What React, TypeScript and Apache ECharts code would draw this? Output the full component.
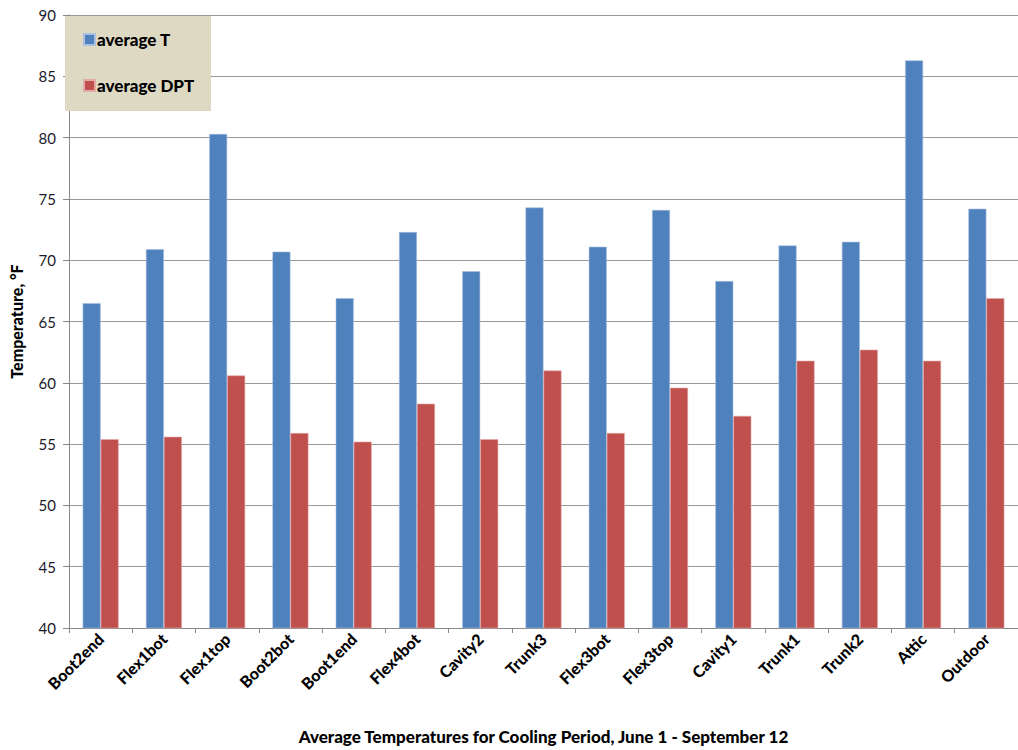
import React, { useEffect, useRef } from "react";
import * as echarts from "echarts";

const categories = [
  "Boot2end", "Flex1bot", "Flex1top", "Boot2bot", "Boot1end", "Flex4bot", "Cavity2",
  "Trunk3", "Flex3bot", "Flex3top", "Cavity1", "Trunk1", "Trunk2", "Attic", "Outdoor",
];
const averageT = [66.5, 70.9, 80.3, 70.7, 66.9, 72.3, 69.1, 74.3, 71.1, 74.1, 68.3, 71.2, 71.5, 86.3, 74.2];
const averageDPT = [55.4, 55.6, 60.6, 55.9, 55.2, 58.3, 55.4, 61.0, 55.9, 59.6, 57.3, 61.8, 62.7, 61.8, 66.9];

const FONT = "Lato, 'Open Sans', sans-serif";

export default function App() {
  const ref = useRef<HTMLDivElement>(null);

  useEffect(() => {
    if (!ref.current) return;
    const chart = echarts.init(ref.current, undefined, { renderer: "svg" });
    chart.setOption({
      animation: false,
      backgroundColor: "#ffffff",
      textStyle: { fontFamily: FONT },
      graphic: [
        {
          type: "rect",
          z: 5,
          shape: { x: 65, y: 16, width: 146, height: 95 },
          style: { fill: "#DDD9C3" },
        },
      ],
      legend: {
        z: 10,
        left: 83,
        top: 31,
        orient: "vertical",
        itemWidth: 11,
        itemHeight: 11,
        itemGap: 29,
        icon: "rect",
        padding: 0,
        textStyle: { fontFamily: FONT, fontSize: 17, fontWeight: 900, color: "#000", padding: [0, 0, 0, -3] },
        data: ["average T", "average DPT"],
      },
      grid: { left: 62, top: 15, width: 960, height: 621, containLabel: false },
      xAxis: {
        type: "category",
        data: categories,
        name: "Average Temperatures for Cooling Period, June 1 - September 12",
        nameLocation: "middle",
        nameGap: 100,
        nameTextStyle: { fontFamily: FONT, fontSize: 17, fontWeight: 900, color: "#000" },
        axisLine: { lineStyle: { color: "#888", width: 1 } },
        axisTick: { show: true, length: 5, lineStyle: { color: "#888" } },
        axisLabel: {
          rotate: 45,
          interval: 0,
          fontFamily: FONT,
          fontSize: 16,
          fontWeight: 900,
          color: "#000",
          margin: 8,
        },
      },
      yAxis: {
        type: "value",
        min: 40,
        max: 90,
        interval: 5,
        name: "Temperature, °F",
        nameLocation: "middle",
        nameGap: 45,
        nameRotate: 90,
        nameTextStyle: { fontFamily: FONT, fontSize: 16, fontWeight: 900, color: "#000" },
        axisLine: { show: true, lineStyle: { color: "#888", width: 1 } },
        axisTick: { show: true, length: 6, lineStyle: { color: "#888" } },
        axisLabel: { fontFamily: FONT, fontSize: 15, color: "#1a1a2a", margin: 13 },
        splitLine: { show: true, lineStyle: { color: "#999", width: 1 } },
      },
      series: [
        {
          name: "average T",
          type: "bar",
          data: averageT,
          barWidth: 18,
          barGap: "0%",
          itemStyle: { color: "#4F81BD", borderColor: "#A9C0E0", borderWidth: 0.6 },
        },
        {
          name: "average DPT",
          type: "bar",
          data: averageDPT,
          barWidth: 18,
          barGap: "0%",
          itemStyle: { color: "#C0504D", borderColor: "#E3A9A7", borderWidth: 0.6 },
        },
      ],
    });
    return () => chart.dispose();
  }, []);

  return (
    <div
      ref={ref}
      style={{ position: "fixed", left: 0, top: 0, width: 1018, height: 750 }}
    />
  );
}
